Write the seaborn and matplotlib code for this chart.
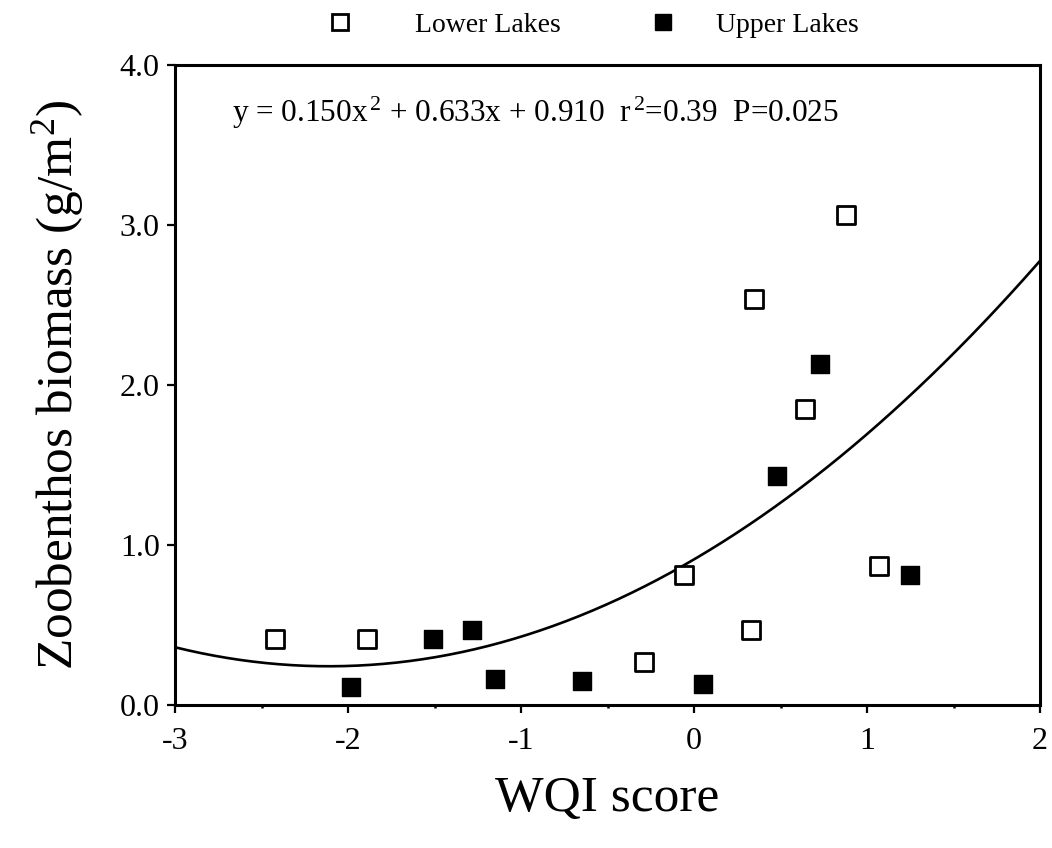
import numpy as np
import pandas as pd
import matplotlib
matplotlib.use("Agg")
import matplotlib.pyplot as plt
from matplotlib.lines import Line2D
import seaborn as sns

# WQI score vs zoobenthos biomass for the two lake groups
lower_x = [-2.42, -1.89, -0.29, -0.06, 0.33, 0.345, 0.64, 0.88, 1.07]
lower_y = [0.41, 0.41, 0.27, 0.81, 0.47, 2.54, 1.85, 3.06, 0.87]
upper_x = [-1.98, -1.51, -1.285, -1.15, -0.65, 0.05, 0.48, 0.73, 1.25]
upper_y = [0.11, 0.41, 0.47, 0.16, 0.15, 0.13, 1.43, 2.13, 0.81]

# quadratic fit coefficients (a*x^2 + b*x + c)
fit_coef = [0.150, 0.633, 0.910]
fit_label = r"y = 0.150x$^{\,2}$ + 0.633x + 0.910  r$^{\,2}$=0.39  P=0.025"

x_ticks = [-3, -2, -1, 0, 1, 2]
y_ticks = [0.0, 1.0, 2.0, 3.0, 4.0]
y_tick_labels = ["0.0", "1.0", "2.0", "3.0", "4.0"]
series_names = ["Lower Lakes", "Upper Lakes"]

sns.set_theme(style="ticks")
plt.rcParams["font.family"] = ["Liberation Serif", "DejaVu Serif"]
plt.rcParams["mathtext.fontset"] = "custom"
plt.rcParams["mathtext.rm"] = "Liberation Serif"
plt.rcParams["mathtext.it"] = "Liberation Serif:italic"
plt.rcParams["mathtext.bf"] = "Liberation Serif:bold"
plt.rcParams["text.color"] = "black"
plt.rcParams["axes.labelcolor"] = "black"
plt.rcParams["xtick.color"] = "black"
plt.rcParams["ytick.color"] = "black"

fig = plt.figure(figsize=(10.52, 8.48), dpi=100)
ax = fig.add_axes([175 / 1052, 1 - 705 / 848, 865 / 1052, 640 / 848])

df_lower = pd.DataFrame({"WQI": lower_x, "biomass": lower_y})
df_upper = pd.DataFrame({"WQI": upper_x, "biomass": upper_y})

# fitted curve across the x range
xs = np.linspace(-3, 2, 200)
ys = fit_coef[0] * xs ** 2 + fit_coef[1] * xs + fit_coef[2]
sns.lineplot(x=xs, y=ys, ax=ax, color="black", linewidth=1.9, zorder=2)

sns.scatterplot(data=df_lower, x="WQI", y="biomass", ax=ax, marker="s",
                s=150, color="white", edgecolor="black", linewidth=2.0,
                zorder=3)
sns.scatterplot(data=df_upper, x="WQI", y="biomass", ax=ax, marker="s",
                s=170, color="black", edgecolor="black", linewidth=1.0,
                zorder=3)

ax.set_xlim(-3, 2)
ax.set_ylim(0, 4)
ax.set_xticks(x_ticks)
ax.set_xticklabels([str(t) for t in x_ticks])
ax.set_xticks(np.arange(-2.5, 2, 1.0), minor=True)
ax.set_yticks(y_ticks)
ax.set_yticklabels(y_tick_labels)

for side in ["left", "right", "top", "bottom"]:
    ax.spines[side].set_visible(True)
    ax.spines[side].set_linewidth(2.2)
    ax.spines[side].set_color("black")

ax.tick_params(axis="both", which="major", direction="out", length=6,
               width=1.6, color="black", labelsize=23, labelcolor="black")
ax.tick_params(axis="x", which="major", pad=10)
ax.tick_params(axis="y", which="major", pad=5)
ax.tick_params(axis="x", which="minor", direction="out", length=2.5,
               width=1.8, color="black")

ax.set_xlabel("WQI score", fontsize=37, labelpad=14)
ax.set_ylabel(r"Zoobenthos biomass (g/m$^{2}$)", fontsize=37, labelpad=24)

ax.text(0.066, 0.925, fit_label, transform=ax.transAxes, fontsize=22.5,
        ha="left", va="center", color="black")

handles = [
    Line2D([], [], marker="s", linestyle="none", markersize=11,
           markerfacecolor="white", markeredgecolor="black",
           markeredgewidth=2.0),
    Line2D([], [], marker="s", linestyle="none", markersize=12,
           markerfacecolor="black", markeredgecolor="black"),
]
# one legend entry per group, placed side by side above the axes
anchors = [(326 / 1052, 1 - 25 / 848), (649 / 1052, 1 - 25 / 848)]
pads = [2.2, 1.4]
for h, name, anchor, pad in zip(handles, series_names, anchors, pads):
    fig.legend([h], [name], loc="center left", bbox_to_anchor=anchor,
               frameon=False, fontsize=20, handlelength=1.0,
               handletextpad=pad, borderpad=0, borderaxespad=0)

fig.savefig("out.png", dpi=100, facecolor="white")
